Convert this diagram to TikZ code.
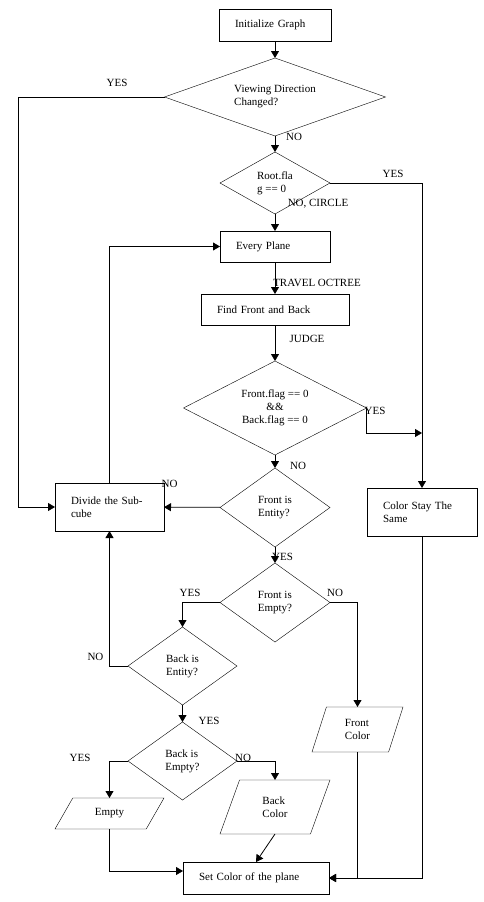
\documentclass[tikz,border=0pt]{standalone}
\usepackage{fontspec}
\setmainfont{Liberation Serif}
\usetikzlibrary{shapes.geometric, arrows.meta}

\begin{document}
\begin{tikzpicture}[
  x=1pt, y=-1pt,
  font=\fontsize{11}{13}\selectfont,
  box/.style={draw, rectangle, outer sep=0pt, inner xsep=16pt, inner ysep=0pt, align=left},
  decision/.style={draw, diamond, shape aspect=2, outer sep=0pt, inner sep=0pt, align=left},
  io/.style={draw, trapezium, trapezium stretches body, outer sep=0pt, inner xsep=0pt, align=left},
  lbl/.style={inner sep=0pt},
  line/.style={line width=0.8pt},
  arrow/.style={line, -{Triangle[length=7pt,width=8pt]}}
]
  \useasboundingbox (0,0) rectangle (484,902);

  \node[box, text width=80pt, minimum height=32pt] (init) at (275,25) {Initialize Graph};
  \node[decision, minimum width=221pt, minimum height=78pt] (view) at (275,97) {Viewing Direction\\Changed?};
  \node[decision, minimum width=110pt, minimum height=62pt] (root) at (275,183) {Root.fla\\g == 0};
  \node[box, text width=78pt, minimum height=31pt] (every) at (275,246.5) {Every Plane};
  \node[box, text width=116pt, minimum height=31pt] (find) at (275,309.5) {Find Front and Back};
  \node[decision, align=center, minimum width=183pt, minimum height=94pt] (flags) at (275,408) {Front.flag == 0\\\&\&\\Back.flag == 0};
  \node[decision, minimum width=110pt, minimum height=79pt] (fentity) at (275,507.5) {Front is\\Entity?};
  \node[box, text width=77pt, minimum height=48pt] (divide) at (109.5,507) {Divide the Sub-\\cube};
  \node[box, text width=78pt, minimum height=48pt] (same) at (422,512) {Color Stay The\\Same};
  \node[decision, minimum width=110pt, minimum height=79pt] (fempty) at (275,602.5) {Front is\\Empty?};
  \node[decision, minimum width=109pt, minimum height=78pt] (bentity) at (182.5,666) {Back is\\Entity?};
  \node[decision, minimum width=109pt, minimum height=78pt] (bempty) at (182.5,761) {Back is\\Empty?};
  \node[io, trapezium left angle=60, trapezium right angle=120, inner ysep=10.6pt, minimum width=109pt, minimum height=31pt] (empty) at (109.5,813.5) {Empty};
  \node[io, trapezium left angle=70, trapezium right angle=110, inner ysep=16.5pt, minimum width=110pt, minimum height=54pt] (bcolor) at (275,807) {Back\\Color};
  \node[io, trapezium left angle=72, trapezium right angle=108, inner ysep=12pt, minimum width=91pt, minimum height=45pt] (fcolor) at (357.5,729.5) {Front\\Color};
  \node[box, text width=114pt, minimum height=32pt] (setc) at (256,878) {Set Color of the plane};

  \coordinate (merge) at (422,433);

  % branch labels
  \node[lbl] (yesA) at (117,83) {YES};
  \node[lbl] (noA) at (294,137) {NO};
  \node[lbl] (yesB) at (393,174) {YES};
  \node[lbl] (noB) at (318,204) {NO, CIRCLE};
  \node[lbl] (travel) at (317,283) {TRAVEL OCTREE};
  \node[lbl] (judge) at (307,339) {JUDGE};
  \node[lbl] (yesC) at (375,411) {YES};
  \node[lbl] (noC) at (298,466) {NO};
  \node[lbl] (noD) at (169.5,484) {NO};
  \node[lbl] (yesD) at (282.5,557) {YES};
  \node[lbl] (yesE) at (190,593) {YES};
  \node[lbl] (noE) at (335,593) {NO};
  \node[lbl] (noF) at (95.5,657) {NO};
  \node[lbl] (yesF) at (209,721) {YES};
  \node[lbl] (yesG) at (80,758) {YES};
  \node[lbl] (noG) at (243,758) {NO};

  \draw[arrow] (init) -- (view);
  \draw[arrow] (view.west) -| ([xshift=-37pt]divide.west) -- (divide.west);
  \draw[arrow] (view) -- (root);
  \draw[arrow] (root.east) -| (same.north);
  \draw[arrow] (root) -- (every);
  \draw[arrow] (every) -- (find);
  \draw[arrow] (find) -- (flags);
  \draw[arrow] (flags.east) |- (merge);
  \draw[arrow] (flags) -- (fentity);
  \draw[arrow] (fentity) -- (divide);
  \draw[arrow] (divide.north) |- (every.west);
  \draw[arrow] (fentity) -- (fempty);
  \draw[arrow] (fempty.west) -| (bentity.north);
  \draw[arrow] (fempty.east) -| (fcolor.north);
  \draw[arrow] (bentity.west) -| (divide.south);
  \draw[arrow] (bentity) -- (bempty);
  \draw[arrow] (bempty.west) -| (empty.north);
  \draw[arrow] (bempty.east) -| (bcolor.north);
  \draw[arrow] (empty.south) |- ([yshift=7pt]setc.west);
  \draw[arrow] (bcolor.south) -- (setc.north);
  \draw[arrow] (fcolor.south) |- (setc.east);
  \draw[arrow] (same.south) |- (setc.east);
\end{tikzpicture}
\end{document}
